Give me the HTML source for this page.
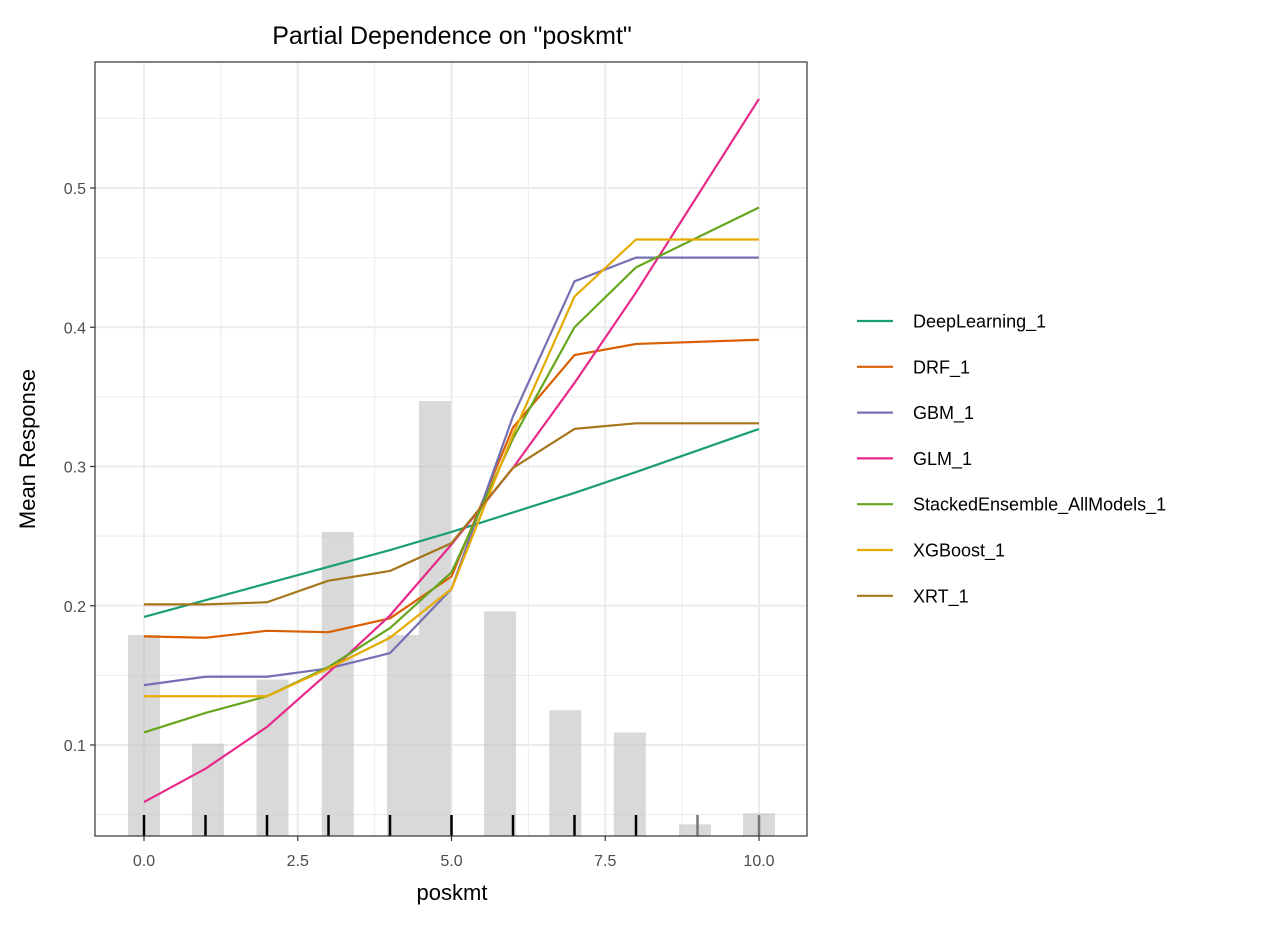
<!DOCTYPE html>
<html><head><meta charset="utf-8"><style>
body{margin:0;background:#fff;}
svg text{font-family:"Liberation Sans",Arial,sans-serif;}
</style></head><body>
<svg id="chart" width="1272" height="922" viewBox="0 0 1272 922">
<text x="452" y="44" font-size="25" text-anchor="middle" fill="#000">Partial Dependence on "poskmt"</text>
<g id="grid"></g>
<g id="bars"></g>
<g id="rug"></g>
<g id="lines"></g>
<rect x="95" y="62" width="712" height="774" fill="none" stroke="#333" stroke-width="1.2"/>
<g id="axes"></g>
<text x="452" y="900" font-size="22" text-anchor="middle" fill="#000">poskmt</text>
<text transform="translate(35,449) rotate(-90)" font-size="22" text-anchor="middle" fill="#000">Mean Response</text>
<g id="legend"></g>
</svg>
<script>
const xValues=[0,1,2,3,4,5,6,7,8,10];
const seriesNames=["DeepLearning_1","DRF_1","GBM_1","GLM_1","StackedEnsemble_AllModels_1","XGBoost_1","XRT_1"];
const seriesColors=["#1b9e77","#d95f02","#7570b3","#e7298a","#66a61e","#e6ab02","#a6761d"];
const deepLearning=[0.192,0.204,0.216,0.228,0.240,0.253,0.267,0.281,0.296,0.327];
const drf=[0.178,0.177,0.182,0.181,0.191,0.221,0.328,0.380,0.388,0.391];
const gbm=[0.143,0.149,0.149,0.155,0.166,0.212,0.336,0.433,0.450,0.450];
const glm=[0.059,0.083,0.113,0.152,0.193,0.244,0.299,0.360,0.425,0.564];
const stacked=[0.109,0.123,0.135,0.156,0.184,0.224,0.320,0.400,0.443,0.486];
const xgboost=[0.135,0.135,0.135,0.155,0.177,0.212,0.323,0.422,0.463,0.463];
const xrt=[0.201,0.201,0.2025,0.218,0.225,0.245,0.299,0.327,0.331,0.331];
const histCenters=[0,1.04,2.09,3.15,4.21,4.73,5.79,6.85,7.9,8.96,10];
const histHeights=[0.179,0.101,0.147,0.253,0.179,0.347,0.196,0.125,0.109,0.043,0.051];
const histWidth=0.52;
const rugValues=[0,1,2,3,4,5,6,7,8,9,10];
const xTicks=[0,2.5,5,7.5,10];
const xTickLabels=["0.0","2.5","5.0","7.5","10.0"];
const yTicks=[0.1,0.2,0.3,0.4,0.5];
const yTickLabels=["0.1","0.2","0.3","0.4","0.5"];
const xMinor=[1.25,3.75,6.25,8.75];
const yMinor=[0.05,0.15,0.25,0.35,0.45,0.55];

const NS="http://www.w3.org/2000/svg";
const X=v=>144+v*61.5;
const Y=v=>745-(v-0.1)*1392.5;
const PB=836,PT=62,PL=95,PR=807;
function mk(tag,attrs,parent){const e=document.createElementNS(NS,tag);for(const k in attrs)e.setAttribute(k,attrs[k]);parent.appendChild(e);return e;}
const grid=document.getElementById('grid');
yMinor.forEach(v=>{const l=mk('line',{x1:PL,x2:PR,y1:Y(v),y2:Y(v),stroke:'#ebebeb','stroke-width':1},grid);

});
xMinor.forEach(v=>{const l=mk('line',{x1:X(v),x2:X(v),y1:PT,y2:PB,stroke:'#ebebeb','stroke-width':1},grid);

});
yTicks.forEach(v=>{const l=mk('line',{x1:PL,x2:PR,y1:Y(v),y2:Y(v),stroke:'#ebebeb','stroke-width':2},grid);

});
xTicks.forEach(v=>{const l=mk('line',{x1:X(v),x2:X(v),y1:PT,y2:PB,stroke:'#ebebeb','stroke-width':2},grid);

});
const bars=document.getElementById('bars');
histCenters.forEach((c,i)=>{const y=Y(histHeights[i]);const r=mk('rect',{x:X(c-histWidth/2),y:y,width:histWidth*61.5,height:PB-y,fill:'#bfbfbf','fill-opacity':0.6},bars);

});
const rug=document.getElementById('rug');
rugValues.forEach(v=>{const l=mk('line',{x1:X(v),x2:X(v),y1:815,y2:PB,stroke:v>8?'#777':'#000','stroke-width':2.5},rug);

});
const allSeries=[deepLearning,drf,gbm,glm,stacked,xgboost,xrt];
const lines=document.getElementById('lines');
allSeries.forEach((s,i)=>{const p=mk('polyline',{points:s.map((v,j)=>X(xValues[j])+','+Y(v)).join(' '),fill:'none',stroke:seriesColors[i],'stroke-width':2.2,'stroke-linejoin':'round'},lines);

});
const axes=document.getElementById('axes');
xTicks.forEach((v,i)=>{mk('line',{x1:X(v),x2:X(v),y1:PB,y2:PB+5,stroke:'#333','stroke-width':1.2},axes);
const t=mk('text',{x:X(v),y:866,'font-size':16,'text-anchor':'middle',fill:'#4d4d4d'},axes);t.textContent=xTickLabels[i];

});
yTicks.forEach((v,i)=>{mk('line',{x1:PL-5,x2:PL,y1:Y(v),y2:Y(v),stroke:'#333','stroke-width':1.2},axes);
const t=mk('text',{x:86,y:Y(v)+6,'font-size':16,'text-anchor':'end',fill:'#4d4d4d'},axes);t.textContent=yTickLabels[i];

});
const legend=document.getElementById('legend');
seriesNames.forEach((n,i)=>{const y=321+i*45.8;const g=mk('g',{},legend);


mk('line',{x1:857,x2:893,y1:y,y2:y,stroke:seriesColors[i],'stroke-width':2.2},g);
const t=mk('text',{x:913,y:y+6.5,'font-size':18,fill:'#000'},g);t.textContent=n;});
</script>
</body></html>
